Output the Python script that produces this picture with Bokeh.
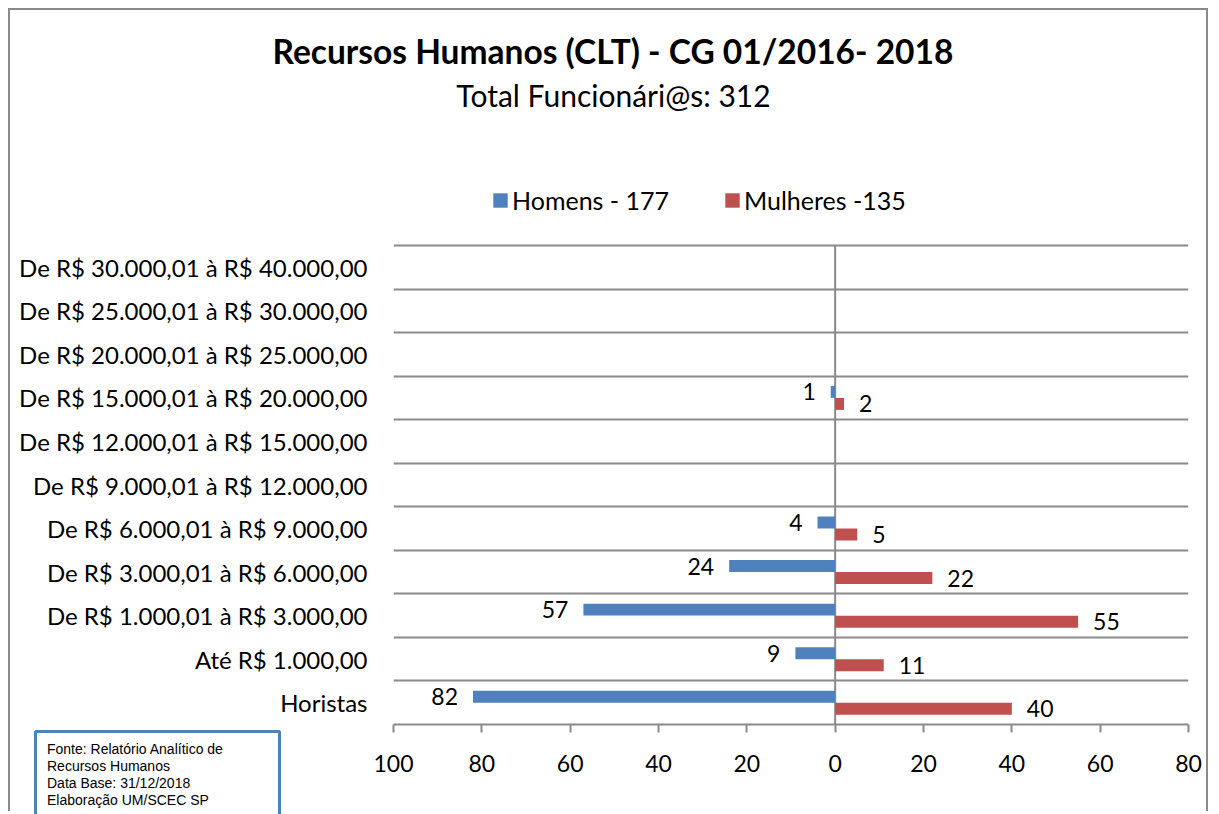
from bokeh.plotting import figure
from bokeh.layouts import column
from bokeh.models import (ColumnDataSource, FixedTicker, Legend, LegendItem,
                          Range1d, Title, Div, Label)
from bokeh.embed import file_html
from bokeh.resources import INLINE
from bokeh.core.properties import value

# ---------------- data ----------------
categories = [
    "De R$ 30.000,01 à R$ 40.000,00",
    "De R$ 25.000,01 à R$ 30.000,00",
    "De R$ 20.000,01 à R$ 25.000,00",
    "De R$ 15.000,01 à R$ 20.000,00",
    "De R$ 12.000,01 à R$ 15.000,00",
    "De R$ 9.000,01 à R$ 12.000,00",
    "De R$ 6.000,01 à R$ 9.000,00",
    "De R$ 3.000,01 à R$ 6.000,00",
    "De R$ 1.000,01 à R$ 3.000,00",
    "Até R$ 1.000,00",
    "Horistas",
]
homens = [0, 0, 0, 1, 0, 0, 4, 24, 57, 9, 82]
mulheres = [0, 0, 0, 2, 0, 0, 5, 22, 55, 11, 40]
series_labels = ["Homens - 177", "Mulheres -135"]
x_ticks = [-100, -80, -60, -40, -20, 0, 20, 40, 60, 80]
x_tick_labels = ["100", "80", "60", "40", "20", "0", "20", "40", "60", "80"]
title_text = "Recursos Humanos (CLT) - CG 01/2016- 2018"
subtitle_text = "Total Funcionári@s: 312"
note_lines = ["Fonte: Relatório Analítico de", "Recursos Humanos",
              "Data Base: 31/12/2018", "Elaboração UM/SCEC SP"]

# ---------------- layout constants ----------------
FRAME_TOP = 62       # canvas px: frame top (subtitle and legend live inside the frame)
GRID_TOP = 235       # canvas px: top gridline
FRAME_BOTTOM = 714   # canvas px
n = len(categories)
y_top = n * (FRAME_BOTTOM - FRAME_TOP) / (FRAME_BOTTOM - GRID_TOP)

# ---------------- derived ----------------
centers = [n - 1 - i + 0.5 for i in range(n)]
off = 0.138
bar_h = 0.275
y_h = [c + off for c in centers]
y_m = [c - off for c in centers]

src_h = ColumnDataSource(dict(y=y_h, left=[-v for v in homens], right=[0] * n))
src_m = ColumnDataSource(dict(y=y_m, left=[0] * n, right=mulheres))

lab_h = ColumnDataSource(dict(
    x=[-v for v in homens if v != 0],
    y=[y for y, v in zip(y_h, homens) if v != 0],
    t=[str(v) for v in homens if v != 0]))
lab_m = ColumnDataSource(dict(
    x=[v for v in mulheres if v != 0],
    y=[y for y, v in zip(y_m, mulheres) if v != 0],
    t=[str(v) for v in mulheres if v != 0]))

BLUE = "#4F81BD"
RED = "#C0504D"
GRAY = "#8A8A8A"
FONT = "Lato"

p = figure(width=1200, height=803, output_backend="svg", toolbar_location=None,
           x_range=Range1d(-100, 80), y_range=Range1d(0, y_top),
           min_border_left=383, min_border_right=22, min_border_top=FRAME_TOP,
           min_border_bottom=803 - FRAME_BOTTOM, margin=(8, 0, 0, 8))
p.styles = {"border-top": "2px solid #8A8A8A", "border-left": "2px solid #8A8A8A",
            "border-right": "2px solid #8A8A8A"}
p.outline_line_color = None
p.background_fill_color = "white"
p.border_fill_color = "white"

# grid (category separators)
p.xgrid.visible = False
p.ygrid.ticker = FixedTicker(ticks=list(range(n + 1)))
p.ygrid.grid_line_color = GRAY
p.ygrid.grid_line_width = 2

# zero line over the category area
p.segment(x0=[0], y0=[0], x1=[0], y1=[n], line_color=GRAY, line_width=2)

r_h = p.hbar(y="y", left="left", right="right", height=bar_h, source=src_h,
             fill_color=BLUE, line_color=None)
r_m = p.hbar(y="y", left="left", right="right", height=bar_h, source=src_m,
             fill_color=RED, line_color=None)

p.text(x="x", y="y", text="t", source=lab_h, text_align="right", text_baseline="middle",
       x_offset=-15, y_offset=0, text_font=value(FONT), text_font_size="23px", text_color="black")
p.text(x="x", y="y", text="t", source=lab_m, text_align="left", text_baseline="middle",
       x_offset=15, y_offset=0, text_font=value(FONT), text_font_size="23px", text_color="black")

# x axis
xa = p.xaxis[0]
xa.ticker = FixedTicker(ticks=x_ticks)
xa.major_label_overrides = {t: l for t, l in zip(x_ticks, x_tick_labels)}
xa.axis_line_color = GRAY
xa.axis_line_width = 2
xa.major_tick_line_color = GRAY
xa.major_tick_line_width = 2
xa.major_tick_in = 0
xa.major_tick_out = 8
xa.minor_tick_line_color = None
xa.major_label_text_font = FONT
xa.major_label_text_font_size = "23px"
xa.major_label_text_color = "black"
xa.major_label_standoff = 22

# y axis
ya = p.yaxis[0]
ya.ticker = FixedTicker(ticks=centers)
ya.major_label_overrides = {c: l for c, l in zip(centers, categories)}
ya.axis_line_color = None
ya.major_tick_line_color = None
ya.minor_tick_line_color = None
ya.major_tick_in = 0
ya.major_tick_out = 0
ya.major_label_text_font = FONT
ya.major_label_text_font_size = "24px"
ya.major_label_text_color = "black"
ya.major_label_standoff = 26

# title (side panel above the frame)
p.add_layout(Title(text=title_text, align="left", offset=-121, vertical_align="middle",
                   standoff=2, text_font=FONT, text_font_size="33.5px",
                   text_font_style="bold", text_color="black"), "above")

# subtitle (inside the frame, above the legend)
p.add_layout(Label(x=220, y=630, x_units="screen", y_units="screen", text=subtitle_text,
                   text_align="center", text_baseline="middle", text_font=FONT,
                   text_font_size="30px", text_color="black"))

# legend (inside the frame, above the top gridline)
legend = Legend(items=[LegendItem(label=series_labels[0], renderers=[r_h]),
                       LegendItem(label=series_labels[1], renderers=[r_m])],
                orientation="horizontal", location=(98, 509), padding=0, margin=0,
                spacing=54, label_standoff=3, glyph_width=18, glyph_height=18,
                label_text_font=FONT, label_text_font_size="25px", label_text_color="black",
                border_line_color=None, background_fill_alpha=0)
p.add_layout(legend)

# note box
note = Div(text="<br>".join(note_lines), width=247, height=84, margin=0,
           styles={"position": "absolute", "left": "34px", "top": "730px", "z-index": "10",
                   "background-color": "white", "border": "3px solid #4F81BD",
                   "border-bottom": "none", "border-radius": "3px 3px 0 0",
                   "box-sizing": "border-box", "padding": "8px 0 0 10px",
                   "font-family": "Liberation Sans", "font-size": "14px",
                   "line-height": "17px", "color": "black", "overflow": "hidden"})

layout = column(p, note)
open("out.html", "w").write(file_html(layout, INLINE))
